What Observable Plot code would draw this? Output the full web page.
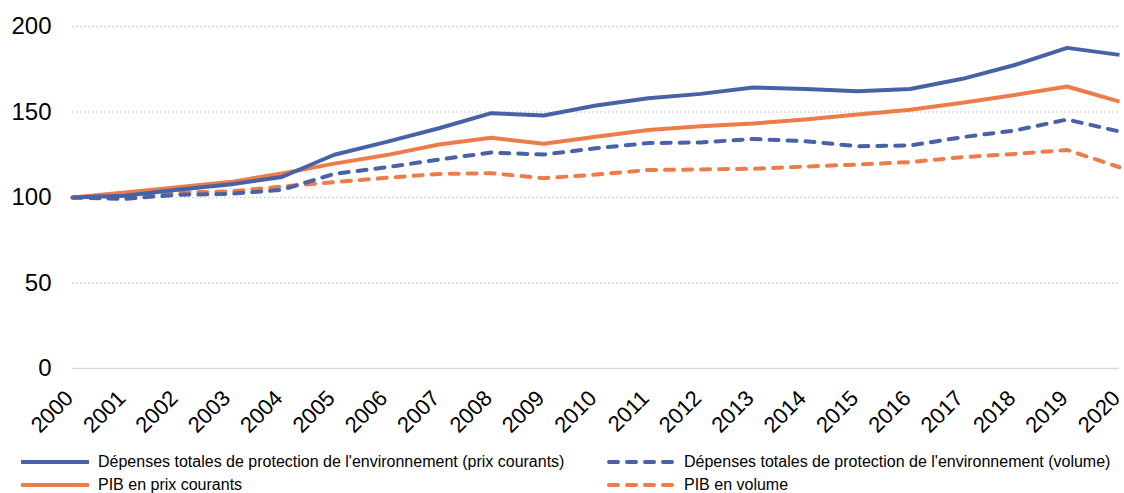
<!DOCTYPE html>
<html>
<head>
<meta charset="utf-8">
<script src="https://cdn.jsdelivr.net/npm/d3@7"></script>
<script src="https://cdn.jsdelivr.net/npm/@observablehq/plot@0.6"></script>
<style>
  html, body { margin: 0; padding: 0; background: #fff; }
  #wrap { position: relative; width: 1124px; height: 493px; font-family: "Liberation Sans", Arial, sans-serif; }
  #legend { position: absolute; left: 0; top: 450px; width: 1124px; font-size: 16px; color: #000; }
  .item { position: absolute; display: flex; align-items: center; height: 23px; white-space: nowrap; }
  .item svg { margin-right: 9px; }
</style>
</head>
<body>
<div id="wrap"><div id="chart"></div><div id="legend"></div></div>
<script>
const years = [2000,2001,2002,2003,2004,2005,2006,2007,2008,2009,2010,2011,2012,2013,2014,2015,2016,2017,2018,2019,2020];
const depCourants = [100,101,104.5,107.6,112,125,132.5,140.5,149.3,148,153.8,158,160.6,164.3,163.5,162.2,163.5,169.4,177.5,187.5,183.4];
const depVolume   = [100,99.2,101.6,102.1,104.5,113.8,117.7,122.2,126.3,125.1,128.8,131.8,132.2,134.2,132.9,130,130.4,135.3,139.2,145.6,138.6];
const pibCourants = [100,103,106,109,114,119.8,124.8,131,134.9,131.4,135.5,139.5,141.7,143.3,145.6,148.5,151.3,155.4,160,164.9,156.1];
const pibVolume   = [100,102,103,103.5,106.4,109,111.5,113.8,114.2,111.3,113.4,116.1,116.4,116.8,118.1,119.3,120.7,123.6,125.5,127.8,117.7];
const yTicks = [0,50,100,150,200];

const seriesNames = [
  "Dépenses totales de protection de l'environnement (prix courants)",
  "Dépenses totales de protection de l'environnement (volume)",
  "PIB en prix courants",
  "PIB en volume"
];
const BLUE = "#4762A6", ORANGE = "#EC7C4A";
const seriesStyle = [
  {color: BLUE, dash: null},
  {color: BLUE, dash: "9,9"},
  {color: ORANGE, dash: null},
  {color: ORANGE, dash: "9,9"}
];
const seriesValues = [depCourants, depVolume, pibCourants, pibVolume];

const rows = years.map((y, i) => ({year: y, v: seriesValues.map(s => s[i])}));
const gridTicks = yTicks.filter(t => t > 0);

// draw order: orange dashed, blue dashed, orange solid, blue solid
const order = [3, 1, 2, 0];
const lineMarks = order.map(k => Plot.line(rows, {
  x: "year", y: d => d.v[k], stroke: seriesStyle[k].color, strokeWidth: 4,
  strokeDasharray: seriesStyle[k].dash || undefined,
  strokeLinecap: seriesStyle[k].dash ? "round" : "butt",
  strokeLinejoin: "round"
}));

const chart = Plot.plot({
  width: 1124,
  height: 445,
  marginLeft: 72,
  marginRight: 5,
  marginTop: 26,
  marginBottom: 77,
  style: {fontFamily: "Liberation Sans, Arial, sans-serif", background: "#fff", color: "#000", overflow: "visible"},
  x: {domain: [2000, 2020], ticks: years, tickFormat: d => String(d)},
  y: {domain: [0, 200], ticks: yTicks},
  marks: [
    Plot.ruleY(gridTicks, {stroke: "#cccccc", strokeWidth: 1.5, strokeDasharray: "1.5,2.5"}),
    Plot.ruleY([0], {stroke: "#d9d9d9", strokeWidth: 1.5}),
    Plot.axisY({ticks: yTicks, tickSize: 0, tickPadding: 21, fontSize: 24, label: null}),
    Plot.axisX({ticks: years, tickSize: 0, text: null, label: null}),
    Plot.text(years, {
      x: d => d, frameAnchor: "bottom", text: d => String(d),
      rotate: -45, textAnchor: "end", lineAnchor: "bottom",
      dx: 2, dy: 31, fontSize: 22, fill: "#000"
    }),
    ...lineMarks
  ]
});
document.getElementById("chart").appendChild(chart);

// legend
const legend = document.getElementById("legend");
const pos = [
  {left: 21, top: 0}, {left: 607, top: 0},
  {left: 21, top: 23}, {left: 607, top: 23}
];
seriesNames.forEach((name, k) => {
  const it = document.createElement("div");
  it.className = "item";
  it.style.left = pos[k].left + "px";
  it.style.top = pos[k].top + "px";
  const st = seriesStyle[k];
  const sw = d3.create("svg").attr("width", 68).attr("height", 10);
  sw.append("line").attr("x1", st.dash ? 2 : 1).attr("x2", st.dash ? 66 : 67).attr("y1", 5).attr("y2", 5)
    .attr("stroke", st.color).attr("stroke-width", 4)
    .attr("stroke-linecap", "round")
    .attr("stroke-dasharray", st.dash || null);
  it.appendChild(sw.node());
  const sp = document.createElement("span");
  sp.textContent = name;
  it.appendChild(sp);
  legend.appendChild(it);
});
</script>
</body>
</html>
